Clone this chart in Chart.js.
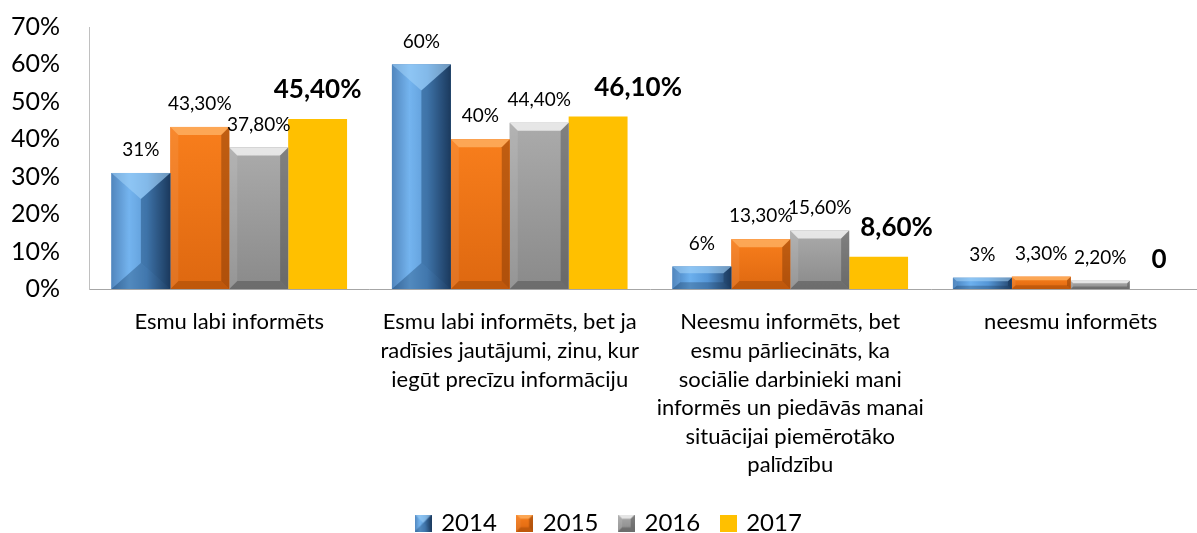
<!DOCTYPE html>
<html>
<head>
<meta charset="utf-8">
<script src="https://cdn.jsdelivr.net/npm/chart.js@4.4.1/dist/chart.umd.min.js"></script>
<style>
  html, body { margin: 0; padding: 0; background: #fff; overflow: hidden; }
  #wrap { position: absolute; left: 0; top: -17px; width: 1215px; height: 562px; }
</style>
</head>
<body>
<div id="wrap"><canvas id="chart" width="1215" height="562"></canvas></div>
<script>
// Dati
const categories = [
    ["Esmu labi informēts"],
    ["Esmu labi informēts, bet ja", "radīsies jautājumi, zinu, kur", "iegūt precīzu informāciju"],
    ["Neesmu informēts, bet", "esmu pārliecināts, ka", "sociālie darbinieki mani", "informēs un piedāvās manai", "situācijai piemērotāko", "palīdzību"],
    ["neesmu informēts"]
];
const years = ["2014", "2015", "2016", "2017"];
const values2014 = [31, 60, 6, 3];
const values2015 = [43.3, 40, 13.3, 3.3];
const values2016 = [37.8, 44.4, 15.6, 2.2];
const values2017 = [45.4, 46.1, 8.6, 0];
const labels2014 = ["31%", "60%", "6%", "3%"];
const labels2015 = ["43,30%", "40%", "13,30%", "3,30%"];
const labels2016 = ["37,80%", "44,40%", "15,60%", "2,20%"];
const labels2017 = ["45,40%", "46,10%", "8,60%", "0"];
const yTicks = [0, 10, 20, 30, 40, 50, 60, 70];

const FONT = "Lato";
Chart.defaults.font.family = FONT;
Chart.defaults.color = "#000";

// Stili dei "bevel" per le colonne
const styles = [
    { depth: 26, hRatio: 0.3, aspect: 1.15, dir: "h",
      face: [[0, "#477fba"], [0.3, "#6cb0ee"], [0.6, "#5596d6"], [1, "#24466e"]],
      top: "rgba(170,215,250,0.55)", bottom: "rgba(15,40,70,0.28)",
      right: "rgba(5,25,50,0.28)", left: "rgba(255,255,255,0.06)" },
    { depth: 8, hRatio: 0.3, aspect: 1, dir: "v",
      face: [[0, "#f87e1c"], [1, "#de6810"]],
      top: "rgba(255,185,110,0.7)", bottom: "rgba(120,50,0,0.3)",
      right: "rgba(90,35,0,0.35)", left: "rgba(255,255,255,0.08)" },
    { depth: 8, hRatio: 0.3, aspect: 1, dir: "v",
      face: [[0, "#ababab"], [1, "#8a8a8a"]],
      top: "rgba(250,250,250,0.75)", bottom: "rgba(40,40,40,0.3)",
      right: "rgba(30,30,30,0.3)", left: "rgba(255,255,255,0.1)" },
    null
];
const flatColors = ["#4a86c2", "#ed7d31", "#a5a5a5", "#ffc000"];

function poly(ctx, pts, color) {
    ctx.beginPath();
    ctx.moveTo(pts[0][0], pts[0][1]);
    for (let i = 1; i < pts.length; i++) ctx.lineTo(pts[i][0], pts[i][1]);
    ctx.closePath();
    ctx.fillStyle = color;
    ctx.fill();
}

function bevel(ctx, x0, y0, x1, y1, st) {
    const w = x1 - x0, h = y1 - y0;
    if (w <= 0 || h <= 0) return;
    const dy = Math.min(st.depth, h * st.hRatio);
    const dx = Math.min(w / 2, dy * st.aspect);
    const g = st.dir === "h" ? ctx.createLinearGradient(x0, 0, x1, 0) : ctx.createLinearGradient(0, y0, 0, y1);
    st.face.forEach(([p, c]) => g.addColorStop(p, c));
    ctx.fillStyle = g;
    ctx.fillRect(x0, y0, w, h);
    const ix0 = x0 + dx, ix1 = x1 - dx, iy0 = y0 + dy, iy1 = y1 - dy;
    poly(ctx, [[x0, y0], [x1, y0], [ix1, iy0], [ix0, iy0]], st.top);
    poly(ctx, [[x1, y0], [x1, y1], [ix1, iy1], [ix1, iy0]], st.right);
    poly(ctx, [[x0, y1], [x1, y1], [ix1, iy1], [ix0, iy1]], st.bottom);
    poly(ctx, [[x0, y0], [ix0, iy0], [ix0, iy1], [x0, y1]], st.left);
}

// Icone della legenda
function makeIcon(i) {
    const c = document.createElement("canvas");
    c.width = 17; c.height = 17;
    const ctx = c.getContext("2d");
    if (styles[i]) {
        bevel(ctx, 0, 0, 17, 17, Object.assign({}, styles[i], { hRatio: i === 0 ? 0.5 : 0.25 }));
    } else {
        ctx.fillStyle = flatColors[i];
        ctx.fillRect(0, 0, 17, 17);
    }
    return c;
}

const bevelPlugin = {
    id: "bevelBars",
    afterDatasetDraw(chart, args) {
        const st = styles[args.index];
        if (!st) return;
        const ctx = chart.ctx;
        ctx.save();
        args.meta.data.forEach(bar => {
            const { x, y, base, width } = bar.getProps(["x", "y", "base", "width"], true);
            bevel(ctx, x - width / 2, Math.min(y, base), x + width / 2, Math.max(y, base), st);
        });
        ctx.restore();
    }
};

const valueLabels = {
    id: "valueLabels",
    afterDatasetsDraw(chart) {
        const ctx = chart.ctx;
        ctx.save();
        ctx.textAlign = "center";
        ctx.textBaseline = "middle";
        ctx.fillStyle = "#000";
        chart.data.datasets.forEach((ds, i) => {
            const meta = chart.getDatasetMeta(i);
            const bold = i === 3;
            ctx.font = bold ? "bold 26px " + FONT : "19px " + FONT;
            meta.data.forEach((bar, j) => {
                const shift = (ds.labelShift || [])[j] || 0;
                ctx.fillText(ds.valueLabels[j], bar.x + shift, bar.y - (bold ? 29 : 23));
            });
        });
        ctx.restore();
    }
};

const allValues = [values2014, values2015, values2016, values2017];
const allLabels = [labels2014, labels2015, labels2016, labels2017];

const ctx = document.getElementById("chart").getContext("2d");
const chart = new Chart(ctx, {
    type: "bar",
    data: {
        labels: categories,
        datasets: years.map((yr, i) => ({
            label: yr,
            data: allValues[i],
            valueLabels: allLabels[i],
            labelShift: i === 3 ? [0, 40, 18, 0] : null,
            backgroundColor: flatColors[i],
            borderWidth: 0,
            categoryPercentage: 0.84,
            barPercentage: 1.0
        }))
    },
    options: {
        responsive: false,
        animation: false,
        layout: { padding: { left: 8, right: 4, top: 11, bottom: 0 } },
        scales: {
            x: {
                grid: { display: false, drawTicks: false },
                border: { display: true, color: "#a6a6a6", width: 1 },
                ticks: { maxRotation: 0, autoSkip: false, padding: 19, font: { size: 22, lineHeight: 1.3 } },
                afterFit: s => { s.height = 200; }
            },
            y: {
                min: 0,
                max: 70,
                grid: { display: false, drawTicks: false },
                border: { display: true, color: "#c0c0c0", width: 1 },
                afterBuildTicks: s => { s.ticks = yTicks.map(v => ({ value: v })); },
                ticks: { padding: 29, font: { size: 25 }, callback: v => v + "%" },
                afterFit: s => { s.width = 81; }
            }
        },
        plugins: {
            tooltip: { enabled: false },
            legend: {
                position: "bottom",
                labels: {
                    usePointStyle: true,
                    pointStyleWidth: 12,
                    padding: 22,
                    font: { size: 24 },
                    color: "#000",
                    generateLabels: ch => ch.data.datasets.map((ds, i) => ({
                        text: ds.label,
                        pointStyle: makeIcon(i),
                        fillStyle: flatColors[i],
                        strokeStyle: flatColors[i],
                        lineWidth: 0,
                        hidden: false,
                        datasetIndex: i
                    }))
                }
            }
        }
    },
    plugins: [bevelPlugin, valueLabels]
});
</script>
</body>
</html>
